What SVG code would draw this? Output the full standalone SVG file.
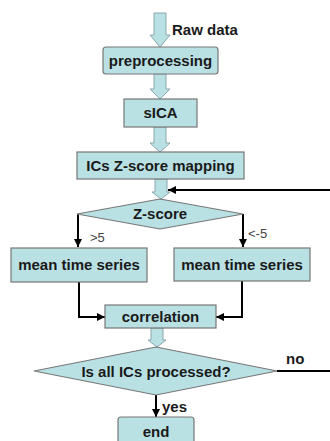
<svg xmlns="http://www.w3.org/2000/svg" width="330" height="441" viewBox="0 0 330 441">
<defs>
<style>
.box{fill:#b9e1e4;stroke:#777;stroke-width:1.2}
.barrow{fill:#b9e1e4;stroke:#8aa7ad;stroke-width:1}
.t{font-family:"Liberation Sans",Arial,sans-serif;font-weight:bold;font-size:15px;fill:#1a1a1a}
.lbl{font-family:"Liberation Sans",Arial,sans-serif;font-size:13px;fill:#444}
.ln{fill:none;stroke:#000;stroke-width:2}
</style>
<marker id="ah" viewBox="0 0 10 10" refX="10" refY="5" markerUnits="userSpaceOnUse" markerWidth="10" markerHeight="8" orient="auto">
<path d="M0,0 L10,5 L0,10 Z" fill="#000"/>
</marker>
</defs>
<rect width="330" height="441" fill="#fff"/>

<g id="connectors">
<path class="barrow" d="M154,13 H166 V35 H170 L160,47 L150,35 H154 Z"/>
<path class="barrow" d="M154,74 H166 V89 H170 L160,99 L150,89 H154 Z"/>
<path class="barrow" d="M154,127 H166 V143 H170 L160,152 L150,143 H154 Z"/>
<path class="barrow" d="M155,179 H167 V192 H170 L161,199 L152,192 H155 Z"/>
<path class="barrow" d="M151,328 H163 V340 H166 L157,347 L148,340 H151 Z"/>
<path class="ln" d="M330,190 H168" marker-end="url(#ah)"/>
<path class="ln" d="M78,214 V247" marker-end="url(#ah)"/>
<path class="ln" d="M243,214 V247" marker-end="url(#ah)"/>
<path class="ln" d="M79,282 V317 H105" marker-end="url(#ah)"/>
<path class="ln" d="M242,281 V317 H216" marker-end="url(#ah)"/>
<path class="ln" d="M277,371 H330"/>
<path class="ln" d="M156,395 V417" marker-end="url(#ah)"/>
<text class="t" x="172" y="35">Raw data</text>
<text class="lbl" x="90" y="242">&gt;5</text>
<text class="lbl" x="248" y="238">&lt;-5</text>
<text class="t" x="286" y="364">no</text>
<text class="t" x="162" y="412">yes</text>
</g>

<g id="preprocessing">
<rect class="box" x="103" y="47" width="115" height="27" rx="3"/>
<text class="t" x="160.5" y="66" text-anchor="middle">preprocessing</text>
</g>
<g id="sica">
<rect class="box" x="124" y="99" width="73" height="28"/>
<text class="t" x="160.5" y="118" text-anchor="middle">sICA</text>
</g>
<g id="zmap">
<rect class="box" x="77" y="152" width="167" height="27"/>
<text class="t" x="160.5" y="171" text-anchor="middle">ICs Z-score mapping</text>
</g>
<g id="zscore">
<path class="box" d="M160,199 L243,214 L160,229 L77,214 Z"/>
<text class="t" x="160" y="219" text-anchor="middle">Z-score</text>
</g>
<g id="mean-left">
<rect class="box" x="11" y="248" width="136" height="34"/>
<text class="t" x="79" y="270" text-anchor="middle">mean time series</text>
</g>
<g id="mean-right">
<rect class="box" x="174" y="248" width="136" height="33"/>
<text class="t" x="242" y="270" text-anchor="middle">mean time series</text>
</g>
<g id="correlation">
<rect class="box" x="105" y="305" width="111" height="23"/>
<text class="t" x="160.5" y="322" text-anchor="middle">correlation</text>
</g>
<g id="check">
<path class="box" d="M156,347 L277,371 L156,395 L34,371 Z"/>
<text class="t" x="156" y="377" text-anchor="middle">Is all ICs processed?</text>
</g>
<g id="end">
<rect class="box" x="118" y="417" width="76" height="34" rx="3"/>
<text class="t" x="156" y="437" text-anchor="middle">end</text>
</g>
</svg>
